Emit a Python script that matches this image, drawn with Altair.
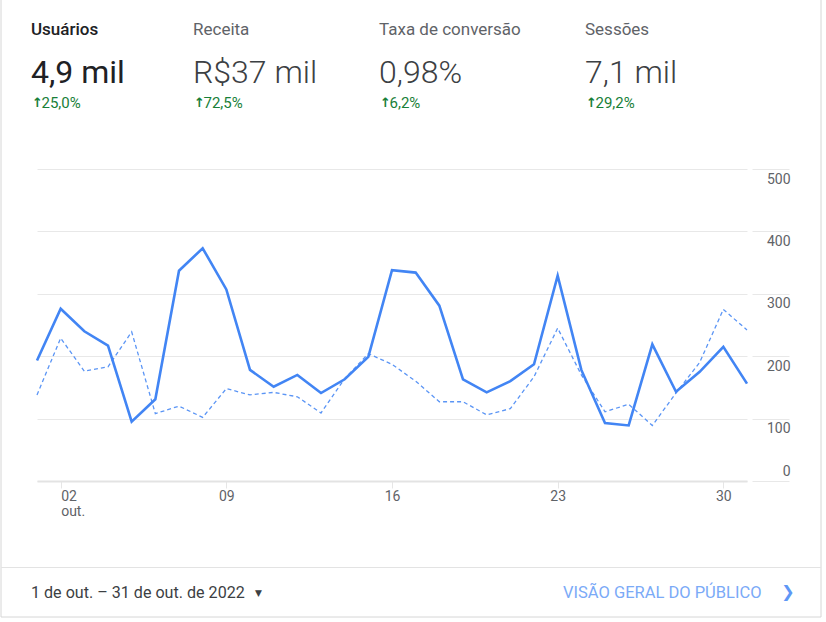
import altair as alt
import pandas as pd

# ---------------- data ----------------
DAYS = list(range(1, 32))
USERS = [193, 276, 240, 217, 95, 131, 337, 373, 307, 178, 151, 170, 141, 163, 199,
         338, 334, 281, 163, 142, 160, 187, 329, 178, 93, 89, 219, 143, 175, 215, 156]
PREVIOUS = [138, 229, 176, 183, 239, 108, 120, 102, 148, 138, 142, 135, 109, 164, 204,
            187, 160, 127, 127, 106, 116, 167, 245, 170, 111, 123, 89, 141, 190, 275, 242]
Y_TICKS = [0, 100, 200, 300, 400, 500]
X_TICKS = [2, 9, 16, 23, 30]
KPI_NAMES = ["Usuários", "Receita", "Taxa de conversão", "Sessões"]
KPI_VALUES = ["4,9 mil", "R$37 mil", "0,98%", "7,1 mil"]
KPI_DELTAS = ["25,0%", "72,5%", "6,2%", "29,2%"]
DATE_RANGE = "1 de out. – 31 de out. de 2022"
LINK_TEXT = "VISÃO GERAL DO PÚBLICO"

# ---------------- layout ----------------
W, H = 710, 312
PAD_L, PAD_T = 37, 169
KPI_X = [31, 193, 379, 585]
FONT = "Roboto"
BLUE = "#4285f4"


def px(x):
    return x - PAD_L


def py(y):
    return y - PAD_T


df = pd.DataFrame({
    "day": DAYS * 2,
    "value": USERS + PREVIOUS,
    "series": ["Atual"] * len(DAYS) + ["Anterior"] * len(DAYS),
})
one = pd.DataFrame({"k": [0]})

x_enc = alt.X(
    "day:Q",
    scale=alt.Scale(domain=[1, 31], nice=False, zero=False),
    axis=alt.Axis(
        values=X_TICKS, title=None, grid=False,
        domain=True, domainColor="#e3e3e3", domainWidth=2,
        ticks=True, tickSize=7, tickColor="#e6e6e6",
        labelFont=FONT, labelFontSize=14, labelColor="#5f6368",
        labelPadding=1, labelBaseline="top", labelLineHeight=15,
        labelExpr="datum.value == 2 ? ['02', 'out.'] : (datum.value < 10 ? '0' + datum.value : '' + datum.value)",
        labelAlign={"condition": {"test": "datum.value == 2", "value": "left"}, "value": "center"},
    ),
)
y_enc = alt.Y(
    "value:Q",
    scale=alt.Scale(domain=[0, 500], nice=False),
    axis=alt.Axis(
        values=Y_TICKS, title=None, orient="right", offset=5,
        domain=False, grid=True, gridColor="#e8e8e8", gridWidth=1,
        ticks=True, tickSize=37, tickColor="#e8e8e8",
        labelFont=FONT, labelFontSize=14, labelColor="#5f6368",
        labelAlign="right", labelPadding=1, labelBaseline="middle",
        labelOffset={"condition": {"test": "datum.value == 0", "value": -10}, "value": 10},
    ),
)

card = alt.Chart(one).mark_rect(filled=False, stroke="#d6d6d6", strokeWidth=1).encode(
    x=alt.value(px(1)), x2=alt.value(px(821)), y=alt.value(py(-5)), y2=alt.value(py(617))
)
sep = alt.Chart(one).mark_rule(color="#e3e3e3", strokeWidth=1).encode(
    x=alt.value(px(1)), x2=alt.value(px(821)), y=alt.value(py(567.5))
)

prev_line = alt.Chart(df).transform_filter("datum.series == 'Anterior'").mark_line(
    color="#5b95f5", strokeWidth=1.3, strokeDash=[4, 3]
).encode(x=x_enc, y=y_enc)
cur_line = alt.Chart(df).transform_filter("datum.series == 'Atual'").mark_line(
    color=BLUE, strokeWidth=2.6
).encode(x=x_enc, y=y_enc)

layers = [prev_line, cur_line, card, sep]

for i, (name, val, delta) in enumerate(zip(KPI_NAMES, KPI_VALUES, KPI_DELTAS)):
    x0 = KPI_X[i]
    sel = i == 0
    layers.append(alt.Chart(one).mark_text(
        text=name, font=FONT, fontSize=17, fontWeight=500 if sel else 400,
        color="#202124" if sel else "#5f6368", align="left", baseline="alphabetic"
    ).encode(x=alt.value(px(x0)), y=alt.value(py(35))))
    layers.append(alt.Chart(one).mark_text(
        text=val, font=FONT, fontSize=32, fontWeight=400 if sel else 300,
        color="#202124" if sel else "#3c4043", align="left", baseline="alphabetic"
    ).encode(x=alt.value(px(x0)), y=alt.value(py(82.5))))
    layers.append(alt.Chart(one).mark_text(
        text="↑", font="DejaVu Sans", fontSize=13, fontWeight="bold",
        color="#188038", align="left", baseline="alphabetic"
    ).encode(x=alt.value(px(x0 + 1)), y=alt.value(py(107))))
    layers.append(alt.Chart(one).mark_text(
        text=delta, font=FONT, fontSize=15, color="#188038",
        align="left", baseline="alphabetic"
    ).encode(x=alt.value(px(x0 + 10.5)), y=alt.value(py(107.5))))

layers.append(alt.Chart(one).mark_text(
    text=DATE_RANGE, font=FONT, fontSize=16.1, color="#3c4043",
    align="left", baseline="alphabetic"
).encode(x=alt.value(px(31)), y=alt.value(py(598))))
layers.append(alt.Chart(one).mark_text(
    text="▼", font="DejaVu Sans", fontSize=9, color="#3c4043",
    align="center", baseline="middle"
).encode(x=alt.value(px(258.5)), y=alt.value(py(593))))
layers.append(alt.Chart(one).mark_text(
    text=LINK_TEXT, font=FONT, fontSize=16.5, color="#7baaf7",
    align="left", baseline="alphabetic"
).encode(x=alt.value(px(563)), y=alt.value(py(598))))
layers.append(alt.Chart(one).mark_text(
    text="❯", font="DejaVu Sans", fontSize=16, color="#5e97f6",
    align="center", baseline="middle"
).encode(x=alt.value(px(788)), y=alt.value(py(592))))

chart = alt.layer(*layers).properties(
    width=W, height=H,
    padding={"left": PAD_L, "top": PAD_T, "right": 826 - PAD_L - W, "bottom": 622 - PAD_T - H},
    autosize=alt.AutoSizeParams(type="none"),
    background="white",
).configure_view(strokeWidth=0)

chart.save("out.html", embed_options={"renderer": "svg", "actions": False})
